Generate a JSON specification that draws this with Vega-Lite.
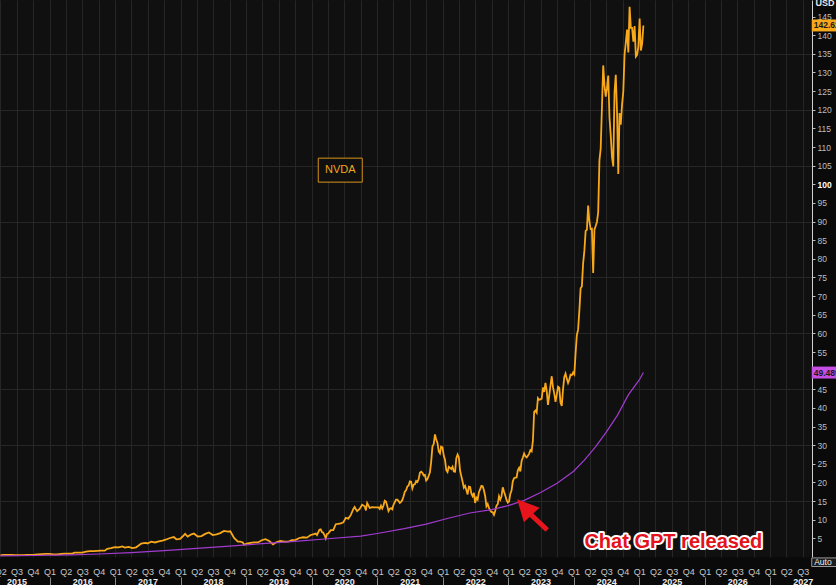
{
  "$schema": "https://vega.github.io/schema/vega-lite/v6.json",
  "width": 812,
  "height": 557,
  "autosize": {"type": "none"},
  "padding": {"left": 0, "top": 0, "right": 24, "bottom": 28},
  "background": "#0a0a0a",
  "config": {"view": {"fill": "#101010", "stroke": null}, "font": "Liberation Sans"},
  "datasets": {
    "nvda": [
      {"date":"2015-04-03","close":0.53},{"date":"2015-04-24","close":0.56},{"date":"2015-05-15","close":0.55},{"date":"2015-06-05","close":0.56},{"date":"2015-06-26","close":0.52},{"date":"2015-07-17","close":0.50},{"date":"2015-08-07","close":0.50},{"date":"2015-08-28","close":0.54},{"date":"2015-09-18","close":0.56},{"date":"2015-10-09","close":0.62},{"date":"2015-10-30","close":0.71},{"date":"2015-11-20","close":0.78},{"date":"2015-12-11","close":0.82},{"date":"2015-12-31","close":0.82},
      {"date":"2016-01-22","close":0.70},{"date":"2016-02-12","close":0.72},{"date":"2016-03-04","close":0.80},{"date":"2016-03-25","close":0.88},{"date":"2016-04-15","close":0.90},{"date":"2016-05-06","close":0.92},{"date":"2016-05-20","close":1.15},{"date":"2016-06-10","close":1.18},{"date":"2016-07-01","close":1.20},{"date":"2016-07-22","close":1.43},{"date":"2016-08-12","close":1.60},{"date":"2016-09-02","close":1.58},{"date":"2016-09-23","close":1.65},{"date":"2016-10-14","close":1.72},{"date":"2016-11-04","close":1.70},{"date":"2016-11-18","close":2.20},{"date":"2016-12-09","close":2.40},{"date":"2016-12-30","close":2.67},
      {"date":"2017-01-20","close":2.60},{"date":"2017-02-10","close":2.82},{"date":"2017-02-24","close":2.50},{"date":"2017-03-17","close":2.70},{"date":"2017-04-07","close":2.40},{"date":"2017-04-28","close":2.60},{"date":"2017-05-12","close":3.10},{"date":"2017-05-26","close":3.60},{"date":"2017-06-09","close":3.75},{"date":"2017-06-23","close":3.80},{"date":"2017-06-30","close":3.61},{"date":"2017-07-21","close":4.10},{"date":"2017-08-11","close":3.90},{"date":"2017-09-01","close":4.20},{"date":"2017-09-22","close":4.40},{"date":"2017-10-13","close":4.70},{"date":"2017-11-03","close":5.10},{"date":"2017-11-24","close":5.35},{"date":"2017-12-08","close":4.75},{"date":"2017-12-29","close":4.84},
      {"date":"2018-01-12","close":5.50},{"date":"2018-01-26","close":6.20},{"date":"2018-02-09","close":5.50},{"date":"2018-03-02","close":6.10},{"date":"2018-03-16","close":6.30},{"date":"2018-04-06","close":5.50},{"date":"2018-04-27","close":5.60},{"date":"2018-05-18","close":6.20},{"date":"2018-06-08","close":6.60},{"date":"2018-06-29","close":5.90},{"date":"2018-07-20","close":6.10},{"date":"2018-08-10","close":6.40},{"date":"2018-08-31","close":7.00},{"date":"2018-09-21","close":6.80},{"date":"2018-10-05","close":6.90},{"date":"2018-10-26","close":5.10},{"date":"2018-11-16","close":4.10},{"date":"2018-11-30","close":4.10},{"date":"2018-12-14","close":3.90},{"date":"2018-12-21","close":3.30},
      {"date":"2019-01-04","close":3.60},{"date":"2019-01-25","close":3.80},{"date":"2019-02-15","close":3.90},{"date":"2019-03-08","close":3.90},{"date":"2019-03-29","close":4.50},{"date":"2019-04-19","close":4.80},{"date":"2019-05-10","close":4.30},{"date":"2019-05-31","close":3.40},{"date":"2019-06-21","close":4.00},{"date":"2019-07-12","close":4.30},{"date":"2019-08-02","close":4.10},{"date":"2019-08-23","close":4.10},{"date":"2019-09-13","close":4.50},{"date":"2019-10-04","close":4.60},{"date":"2019-10-25","close":5.10},{"date":"2019-11-15","close":5.30},{"date":"2019-12-06","close":5.20},{"date":"2019-12-27","close":5.90},
      {"date":"2020-01-10","close":6.10},{"date":"2020-01-24","close":6.30},{"date":"2020-01-31","close":5.90},{"date":"2020-02-14","close":7.30},{"date":"2020-02-21","close":7.40},{"date":"2020-02-28","close":6.70},{"date":"2020-03-06","close":6.50},{"date":"2020-03-13","close":5.90},{"date":"2020-03-20","close":5.00},{"date":"2020-03-27","close":6.20},{"date":"2020-04-03","close":6.30},{"date":"2020-04-17","close":7.20},{"date":"2020-05-01","close":7.20},{"date":"2020-05-15","close":8.80},{"date":"2020-05-29","close":8.90},{"date":"2020-06-12","close":9.00},{"date":"2020-06-26","close":9.30},{"date":"2020-07-10","close":10.50},{"date":"2020-07-24","close":10.30},{"date":"2020-08-07","close":11.30},{"date":"2020-08-21","close":12.90},{"date":"2020-08-28","close":13.40},{"date":"2020-09-04","close":12.80},{"date":"2020-09-11","close":12.30},{"date":"2020-09-25","close":12.90},{"date":"2020-10-09","close":14.00},{"date":"2020-10-23","close":13.60},{"date":"2020-10-30","close":12.50},{"date":"2020-11-06","close":14.50},{"date":"2020-11-20","close":13.20},{"date":"2020-12-04","close":13.40},{"date":"2020-12-18","close":13.30},
      {"date":"2021-01-08","close":13.30},{"date":"2021-01-15","close":12.90},{"date":"2021-01-22","close":13.80},{"date":"2021-01-29","close":13.00},{"date":"2021-02-05","close":13.80},{"date":"2021-02-12","close":15.10},{"date":"2021-02-19","close":14.90},{"date":"2021-02-26","close":13.70},{"date":"2021-03-05","close":12.30},{"date":"2021-03-12","close":12.90},{"date":"2021-03-19","close":13.10},{"date":"2021-03-26","close":12.80},{"date":"2021-04-01","close":13.90},{"date":"2021-04-09","close":14.70},{"date":"2021-04-16","close":15.40},{"date":"2021-04-23","close":15.40},{"date":"2021-04-30","close":15.00},{"date":"2021-05-07","close":14.50},{"date":"2021-05-14","close":14.80},{"date":"2021-05-21","close":15.30},{"date":"2021-05-28","close":16.30},{"date":"2021-06-04","close":17.50},{"date":"2021-06-11","close":17.90},{"date":"2021-06-18","close":18.90},{"date":"2021-06-25","close":19.20},{"date":"2021-07-02","close":20.30},{"date":"2021-07-09","close":20.20},{"date":"2021-07-16","close":18.40},{"date":"2021-07-23","close":19.40},{"date":"2021-07-30","close":19.50},{"date":"2021-08-06","close":20.40},{"date":"2021-08-13","close":20.10},{"date":"2021-08-20","close":20.90},{"date":"2021-08-27","close":22.60},{"date":"2021-09-03","close":22.90},{"date":"2021-09-10","close":22.60},{"date":"2021-09-17","close":21.90},{"date":"2021-09-24","close":22.00},{"date":"2021-10-01","close":20.50},{"date":"2021-10-08","close":20.90},{"date":"2021-10-15","close":21.80},{"date":"2021-10-22","close":22.70},{"date":"2021-10-29","close":25.60},{"date":"2021-11-05","close":29.70},{"date":"2021-11-12","close":30.30},{"date":"2021-11-19","close":32.90},{"date":"2021-11-26","close":31.50},{"date":"2021-12-03","close":30.60},{"date":"2021-12-10","close":28.30},{"date":"2021-12-17","close":27.80},{"date":"2021-12-23","close":29.60},{"date":"2021-12-31","close":29.40},
      {"date":"2022-01-07","close":27.2},{"date":"2022-01-14","close":26.1},{"date":"2022-01-21","close":23.3},{"date":"2022-01-28","close":22.8},{"date":"2022-02-04","close":24.2},{"date":"2022-02-11","close":23.9},{"date":"2022-02-18","close":23.6},{"date":"2022-02-25","close":24.2},{"date":"2022-03-04","close":22.95},{"date":"2022-03-11","close":22.9},{"date":"2022-03-18","close":26.5},{"date":"2022-03-25","close":27.5},{"date":"2022-04-01","close":26.7},{"date":"2022-04-08","close":23.2},{"date":"2022-04-14","close":21.9},{"date":"2022-04-22","close":20.2},{"date":"2022-04-29","close":18.6},{"date":"2022-05-06","close":19.1},{"date":"2022-05-13","close":18.0},{"date":"2022-05-20","close":16.8},{"date":"2022-05-27","close":18.9},{"date":"2022-06-03","close":18.8},{"date":"2022-06-10","close":17.0},{"date":"2022-06-17","close":16.3},{"date":"2022-06-24","close":17.2},{"date":"2022-07-01","close":14.5},{"date":"2022-07-08","close":15.9},{"date":"2022-07-15","close":15.4},{"date":"2022-07-22","close":17.4},{"date":"2022-07-29","close":18.2},{"date":"2022-08-05","close":19.1},{"date":"2022-08-12","close":19.0},{"date":"2022-08-19","close":17.9},{"date":"2022-08-26","close":16.3},{"date":"2022-09-02","close":13.6},{"date":"2022-09-09","close":14.2},{"date":"2022-09-16","close":13.2},{"date":"2022-09-23","close":12.5},{"date":"2022-09-30","close":12.1},{"date":"2022-10-07","close":12.0},{"date":"2022-10-14","close":11.3},{"date":"2022-10-21","close":12.4},{"date":"2022-10-28","close":13.8},{"date":"2022-11-04","close":14.2},{"date":"2022-11-11","close":16.3},{"date":"2022-11-18","close":15.4},{"date":"2022-11-25","close":16.3},{"date":"2022-12-02","close":18.7},{"date":"2022-12-09","close":17.5},{"date":"2022-12-16","close":16.5},{"date":"2022-12-23","close":15.3},{"date":"2022-12-30","close":14.6},
      {"date":"2023-01-06","close":14.86},{"date":"2023-01-13","close":16.92},{"date":"2023-01-20","close":17.84},{"date":"2023-01-27","close":20.31},{"date":"2023-02-03","close":21.16},{"date":"2023-02-10","close":21.28},{"date":"2023-02-17","close":21.36},{"date":"2023-02-24","close":23.28},{"date":"2023-03-03","close":23.92},{"date":"2023-03-10","close":22.98},{"date":"2023-03-17","close":25.74},{"date":"2023-03-24","close":26.7},{"date":"2023-03-31","close":27.78},{"date":"2023-04-07","close":27.03},{"date":"2023-04-14","close":26.73},{"date":"2023-04-21","close":27.14},{"date":"2023-04-28","close":27.75},{"date":"2023-05-05","close":28.68},{"date":"2023-05-12","close":28.34},{"date":"2023-05-19","close":31.2},{"date":"2023-05-26","close":38.95},{"date":"2023-06-02","close":39.3},{"date":"2023-06-09","close":38.75},{"date":"2023-06-16","close":42.64},{"date":"2023-06-23","close":42.2},{"date":"2023-06-30","close":42.3},{"date":"2023-07-07","close":42.5},{"date":"2023-07-14","close":45.48},{"date":"2023-07-21","close":44.3},{"date":"2023-07-28","close":46.7},{"date":"2023-08-04","close":44.6},{"date":"2023-08-11","close":40.8},{"date":"2023-08-18","close":43.3},{"date":"2023-08-25","close":46.0},{"date":"2023-09-01","close":48.5},{"date":"2023-09-08","close":45.5},{"date":"2023-09-15","close":43.9},{"date":"2023-09-22","close":41.6},{"date":"2023-09-29","close":43.5},{"date":"2023-10-06","close":45.7},{"date":"2023-10-13","close":45.4},{"date":"2023-10-20","close":41.4},{"date":"2023-10-27","close":40.5},{"date":"2023-11-03","close":45.0},{"date":"2023-11-10","close":48.3},{"date":"2023-11-17","close":49.2},{"date":"2023-11-24","close":47.8},{"date":"2023-12-01","close":46.7},{"date":"2023-12-08","close":47.6},{"date":"2023-12-15","close":48.9},{"date":"2023-12-22","close":48.8},{"date":"2023-12-29","close":49.5},
      {"date":"2024-01-05","close":49.0},{"date":"2024-01-12","close":54.7},{"date":"2024-01-19","close":59.5},{"date":"2024-01-26","close":61.0},{"date":"2024-02-02","close":66.1},{"date":"2024-02-09","close":72.1},{"date":"2024-02-16","close":72.6},{"date":"2024-02-23","close":78.8},{"date":"2024-03-01","close":82.2},{"date":"2024-03-08","close":87.5},{"date":"2024-03-15","close":87.8},{"date":"2024-03-22","close":94.3},{"date":"2024-03-28","close":90.4},{"date":"2024-04-05","close":88.0},{"date":"2024-04-12","close":88.1},{"date":"2024-04-19","close":76.2},{"date":"2024-04-26","close":87.8},{"date":"2024-05-03","close":88.8},{"date":"2024-05-10","close":89.9},{"date":"2024-05-17","close":92.5},{"date":"2024-05-24","close":106.5},{"date":"2024-05-31","close":109.6},{"date":"2024-06-07","close":120.9},{"date":"2024-06-14","close":131.9},{"date":"2024-06-21","close":126.6},{"date":"2024-06-28","close":123.5},{"date":"2024-07-05","close":125.8},{"date":"2024-07-12","close":129.2},{"date":"2024-07-19","close":117.9},{"date":"2024-07-26","close":113.1},{"date":"2024-08-02","close":107.3},{"date":"2024-08-09","close":104.8},{"date":"2024-08-16","close":124.6},{"date":"2024-08-23","close":129.4},{"date":"2024-08-30","close":119.4},{"date":"2024-09-06","close":102.8},{"date":"2024-09-13","close":119.1},{"date":"2024-09-20","close":116.0},{"date":"2024-09-27","close":121.4},{"date":"2024-10-04","close":124.9},{"date":"2024-10-11","close":134.8},{"date":"2024-10-18","close":138.0},{"date":"2024-10-25","close":141.5},{"date":"2024-11-01","close":135.4},{"date":"2024-11-08","close":147.6},{"date":"2024-11-15","close":141.98},{"date":"2024-11-22","close":141.95},{"date":"2024-11-29","close":138.25},{"date":"2024-12-06","close":142.44},{"date":"2024-12-13","close":134.25},{"date":"2024-12-20","close":134.7},{"date":"2024-12-27","close":137.01},
      {"date":"2025-01-03","close":144.47},{"date":"2025-01-10","close":135.91},{"date":"2025-01-17","close":137.71},{"date":"2025-01-24","close":142.62}
    ],
    "trend": [
      {"date":"2015-04-03","value":0.30},{"date":"2015-10-01","value":0.40},{"date":"2016-05-01","value":0.55},{"date":"2016-10-01","value":0.80},{"date":"2017-04-01","value":1.20},{"date":"2017-10-01","value":1.70},{"date":"2018-04-01","value":2.30},{"date":"2018-10-01","value":2.90},{"date":"2019-04-01","value":3.60},{"date":"2019-10-01","value":4.20},{"date":"2020-04-01","value":4.90},{"date":"2020-10-01","value":5.60},{"date":"2021-01-01","value":6.30},{"date":"2021-06-01","value":7.60},{"date":"2021-10-01","value":8.80},{"date":"2022-02-01","value":10.40},{"date":"2022-06-01","value":11.80},{"date":"2022-10-01","value":12.70},{"date":"2023-01-01","value":13.80},{"date":"2023-04-01","value":15.20},{"date":"2023-07-01","value":17.30},{"date":"2023-10-01","value":19.80},{"date":"2024-01-01","value":23.00},{"date":"2024-03-01","value":26.00},{"date":"2024-05-01","value":29.50},{"date":"2024-07-01","value":33.50},{"date":"2024-09-01","value":38.00},{"date":"2024-11-01","value":43.50},{"date":"2025-01-01","value":47.50},{"date":"2025-01-24","value":49.489}
    ],
    "lastValues": [
      {"series":"NVDA","value":142.62,"label":"142.62"},
      {"series":"Trend","value":49.489,"label":"49.489"}
    ]
  },
  "layer": [
    {
      "data": {"name": "nvda"},
      "mark": {"type": "line", "color": "#f7a81b", "strokeWidth": 1.8},
      "encoding": {
        "x": {
          "field": "date", "type": "temporal",
          "scale": {"type": "utc", "domain": [{"year":2015,"month":3,"date":31,"utc":true},{"year":2027,"month":8,"date":22,"utc":true}]},
          "axis": {
            "orient": "bottom", "tickCount": {"interval": "month", "step": 3},
            "labelExpr": "'Q' + utcquarter(datum.value)",
            "ticks": false, "domain": false, "grid": true, "gridColor": "#262626", "gridWidth": 1,
            "labelColor": "#c8c8c8", "labelFontSize": 9, "labelFont": "Liberation Sans", "labelPadding": 10,
            "labelFlush": false, "labelBound": false, "labelOverlap": false, "labelAngle": 0,
            "labelAlign": "center", "labelBaseline": "top", "title": null
          }
        },
        "y": {
          "field": "close", "type": "quantitative",
          "scale": {"domain": [0, 149.45], "nice": false, "zero": false},
          "axis": {
            "orient": "right",
            "values": [5,10,15,20,25,30,35,40,45,50,55,60,65,70,75,80,85,90,95,100,105,110,115,120,125,130,135,140,145],
            "tickSize": 3, "tickColor": "#bbbbbb", "domain": true, "domainColor": "#d0d0d0", "domainWidth": 1,
            "labelColor": {"condition": {"test": "datum.value === 100", "value": "#ffffff"}, "value": "#bdbdbd"},
            "labelFontWeight": {"condition": {"test": "datum.value === 100", "value": "bold"}, "value": "normal"},
            "labelFontSize": 8.5, "labelFont": "Liberation Sans", "labelPadding": 2,
            "labelFlush": false, "labelOverlap": false, "labelBound": false,
            "grid": true, "gridColor": "#262626",
            "gridOpacity": {"condition": {"test": "datum.value % 15 === 0", "value": 1}, "value": 0},
            "title": "USD", "titleAngle": 0, "titleAlign": "left", "titleBaseline": "middle",
            "titleX": 3, "titleY": 2, "titleFontSize": 9, "titleFontWeight": "bold", "titleColor": "#e6e6e6",
            "titleFont": "Liberation Sans"
          }
        }
      }
    },
    {
      "data": {"name": "trend"},
      "mark": {"type": "line", "color": "#a23bd0", "strokeWidth": 1.2},
      "encoding": {
        "x": {
          "field": "date", "type": "temporal",
          "scale": {"type": "utc", "domain": [{"year":2015,"month":3,"date":31,"utc":true},{"year":2027,"month":8,"date":22,"utc":true}]},
          "axis": {
            "orient": "bottom",
            "values": [
              {"year":2015,"month":7,"date":1,"utc":true},{"year":2016,"month":7,"date":1,"utc":true},{"year":2017,"month":7,"date":1,"utc":true},{"year":2018,"month":7,"date":1,"utc":true},{"year":2019,"month":7,"date":1,"utc":true},{"year":2020,"month":7,"date":1,"utc":true},{"year":2021,"month":7,"date":1,"utc":true},{"year":2022,"month":7,"date":1,"utc":true},{"year":2023,"month":7,"date":1,"utc":true},{"year":2024,"month":7,"date":1,"utc":true},{"year":2025,"month":7,"date":1,"utc":true},{"year":2026,"month":7,"date":1,"utc":true},{"year":2027,"month":7,"date":1,"utc":true}
            ],
            "labelExpr": "utcFormat(datum.value, '%Y')",
            "offset": 20, "ticks": false, "domain": false, "grid": false,
            "labelPadding": 0, "labelFontWeight": "bold", "labelColor": "#eeeeee",
            "labelFontSize": 9, "labelFont": "Liberation Sans", "labelBaseline": "top", "labelAlign": "center", "labelAngle": 0,
            "labelFlush": false, "labelBound": false, "labelOverlap": false, "title": null
          }
        },
        "y": {"field": "value", "type": "quantitative", "scale": {"domain": [0, 149.45], "nice": false, "zero": false}, "axis": null}
      }
    },
    {
      "data": {"name": "lastValues"},
      "mark": {"type": "point", "shape": "M-1,-0.46L1,-0.46L1,0.46L-1,0.46Z", "size": 676, "filled": true, "opacity": 1},
      "encoding": {
        "x": {"datum": {"year":2027,"month":11,"date":1,"utc":true}, "type": "temporal", "scale": {"type": "utc", "domain": [{"year":2015,"month":3,"date":31,"utc":true},{"year":2027,"month":8,"date":22,"utc":true}]},
          "axis": {
            "orient": "bottom",
            "values": [
              {"year":2016,"month":1,"date":1,"utc":true},{"year":2017,"month":1,"date":1,"utc":true},{"year":2018,"month":1,"date":1,"utc":true},{"year":2019,"month":1,"date":1,"utc":true},{"year":2020,"month":1,"date":1,"utc":true},{"year":2021,"month":1,"date":1,"utc":true},{"year":2022,"month":1,"date":1,"utc":true},{"year":2023,"month":1,"date":1,"utc":true},{"year":2024,"month":1,"date":1,"utc":true},{"year":2025,"month":1,"date":1,"utc":true},{"year":2026,"month":1,"date":1,"utc":true},{"year":2027,"month":1,"date":1,"utc":true}
            ],
            "offset": 20, "tickSize": 8, "tickColor": "#8a8a8a", "tickWidth": 1, "labels": false, "domain": false, "grid": false, "title": null
          }
        },
        "y": {"field": "value", "type": "quantitative", "scale": {"domain": [0, 149.45], "nice": false, "zero": false}, "axis": null},
        "color": {"field": "series", "type": "nominal", "scale": {"domain": ["NVDA", "Trend"], "range": ["#f7a81b", "#c44ee6"]}, "legend": null}
      }
    },
    {
      "data": {"name": "lastValues"},
      "mark": {"type": "text", "align": "left", "baseline": "middle", "fontSize": 8.5, "fontWeight": "bold", "color": "#1a1a1a", "font": "Liberation Sans"},
      "encoding": {
        "x": {"datum": {"year":2027,"month":9,"date":1,"utc":true}, "type": "temporal", "scale": {"type": "utc", "domain": [{"year":2015,"month":3,"date":31,"utc":true},{"year":2027,"month":8,"date":22,"utc":true}]}, "axis": null},
        "y": {"field": "value", "type": "quantitative", "scale": {"domain": [0, 149.45], "nice": false, "zero": false}, "axis": null},
        "text": {"field": "label"}
      }
    },
    {
      "data": {"values": [{"label": "Auto"}]},
      "mark": {"type": "point", "shape": "M-1,-0.33L1,-0.33L1,0.33L-1,0.33Z", "size": 676, "filled": true, "opacity": 1, "color": "#1c1c1c", "stroke": "#9a9a9a", "strokeWidth": 1},
      "encoding": {
        "x": {"datum": {"year":2027,"month":11,"date":1,"utc":true}, "type": "temporal", "scale": {"type": "utc", "domain": [{"year":2015,"month":3,"date":31,"utc":true},{"year":2027,"month":8,"date":22,"utc":true}]}, "axis": null},
        "y": {"datum": -1.4, "type": "quantitative", "scale": {"domain": [0, 149.45], "nice": false, "zero": false}, "axis": null}
      }
    },
    {
      "data": {"values": [{"label": "Auto"}]},
      "mark": {"type": "text", "align": "left", "baseline": "middle", "fontSize": 8.5, "color": "#f0f0f0", "font": "Liberation Sans"},
      "encoding": {
        "x": {"datum": {"year":2027,"month":9,"date":3,"utc":true}, "type": "temporal", "scale": {"type": "utc", "domain": [{"year":2015,"month":3,"date":31,"utc":true},{"year":2027,"month":8,"date":22,"utc":true}]}, "axis": null},
        "y": {"datum": -1.4, "type": "quantitative", "scale": {"domain": [0, 149.45], "nice": false, "zero": false}, "axis": null},
        "text": {"field": "label"}
      }
    },
    {
      "data": {"values": [{"label": "NVDA"}]},
      "mark": {"type": "point", "shape": "M-1,-0.545L1,-0.545L1,0.545L-1,0.545Z", "size": 1936, "filled": true, "opacity": 1, "color": "#101010", "stroke": "#d8931a", "strokeWidth": 1},
      "encoding": {
        "x": {"datum": {"year":2020,"month":6,"date":9,"utc":true}, "type": "temporal", "scale": {"type": "utc", "domain": [{"year":2015,"month":3,"date":31,"utc":true},{"year":2027,"month":8,"date":22,"utc":true}]}, "axis": null},
        "y": {"datum": 103.8, "type": "quantitative", "scale": {"domain": [0, 149.45], "nice": false, "zero": false}, "axis": null}
      }
    },
    {
      "data": {"values": [{"label": "NVDA"}]},
      "mark": {"type": "text", "align": "center", "baseline": "middle", "fontSize": 11, "color": "#f0a61e", "font": "Liberation Sans"},
      "encoding": {
        "x": {"datum": {"year":2020,"month":6,"date":9,"utc":true}, "type": "temporal", "scale": {"type": "utc", "domain": [{"year":2015,"month":3,"date":31,"utc":true},{"year":2027,"month":8,"date":22,"utc":true}]}, "axis": null},
        "y": {"datum": 103.8, "type": "quantitative", "scale": {"domain": [0, 149.45], "nice": false, "zero": false}, "axis": null},
        "text": {"field": "label"}
      }
    },
    {
      "data": {"values": [{}]},
      "mark": {"type": "rule", "color": "#e8141c", "strokeWidth": 5, "strokeCap": "butt"},
      "encoding": {
        "x": {"datum": {"year":2023,"month":8,"date":7,"utc":true}, "type": "temporal", "scale": {"type": "utc", "domain": [{"year":2015,"month":3,"date":31,"utc":true},{"year":2027,"month":8,"date":22,"utc":true}]}, "axis": null},
        "x2": {"datum": {"year":2023,"month":5,"date":10,"utc":true}},
        "y": {"datum": 7.24, "type": "quantitative", "scale": {"domain": [0, 149.45], "nice": false, "zero": false}, "axis": null},
        "y2": {"datum": 11.27}
      }
    },
    {
      "data": {"values": [{}]},
      "mark": {"type": "point", "shape": "M0,0L-0.5,1L0.5,1Z", "size": 1850, "filled": true, "opacity": 1, "color": "#e8141c", "angle": 317},
      "encoding": {
        "x": {"datum": {"year":2023,"month":2,"date":20,"utc":true}, "type": "temporal", "scale": {"type": "utc", "domain": [{"year":2015,"month":3,"date":31,"utc":true},{"year":2027,"month":8,"date":22,"utc":true}]}, "axis": null},
        "y": {"datum": 15.5, "type": "quantitative", "scale": {"domain": [0, 149.45], "nice": false, "zero": false}, "axis": null}
      }
    },
    {
      "data": {"values": [{"label": "Chat GPT released"}]},
      "mark": {"type": "text", "align": "center", "baseline": "middle", "fontSize": 20, "fontWeight": "bold", "font": "Liberation Sans", "color": "#ffffff", "stroke": "#ffffff", "strokeWidth": 4, "strokeJoin": "round"},
      "encoding": {
        "x": {"datum": {"year":2025,"month":7,"date":10,"utc":true}, "type": "temporal", "scale": {"type": "utc", "domain": [{"year":2015,"month":3,"date":31,"utc":true},{"year":2027,"month":8,"date":22,"utc":true}]}, "axis": null},
        "y": {"datum": 4.0, "type": "quantitative", "scale": {"domain": [0, 149.45], "nice": false, "zero": false}, "axis": null},
        "text": {"field": "label"}
      }
    },
    {
      "data": {"values": [{"label": "Chat GPT released"}]},
      "mark": {"type": "text", "align": "center", "baseline": "middle", "fontSize": 20, "fontWeight": "bold", "font": "Liberation Sans", "color": "#e3121b"},
      "encoding": {
        "x": {"datum": {"year":2025,"month":7,"date":10,"utc":true}, "type": "temporal", "scale": {"type": "utc", "domain": [{"year":2015,"month":3,"date":31,"utc":true},{"year":2027,"month":8,"date":22,"utc":true}]}, "axis": null},
        "y": {"datum": 4.0, "type": "quantitative", "scale": {"domain": [0, 149.45], "nice": false, "zero": false}, "axis": null},
        "text": {"field": "label"}
      }
    }
  ],
  "resolve": {"axis": {"x": "independent", "y": "independent"}}
}
